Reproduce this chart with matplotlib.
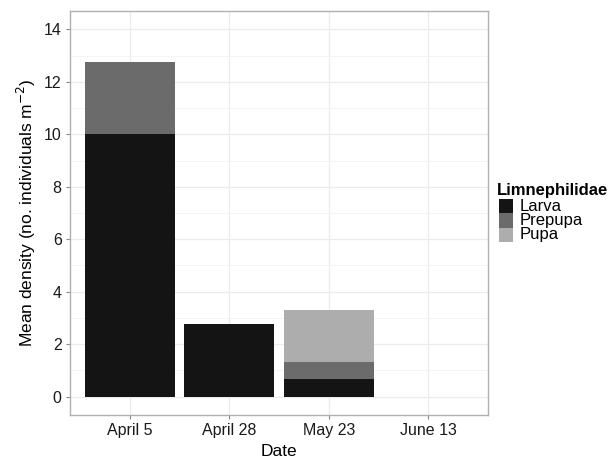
import matplotlib.pyplot as plt
import numpy as np
from matplotlib.patches import Rectangle

plt.rcParams['font.family'] = ['Liberation Sans', 'DejaVu Sans']

# data
dates = ['April 5', 'April 28', 'May 23', 'June 13']
larva = [10.0, 2.77, 0.66, 0.0]
prepupa = [2.77, 0.0, 0.66, 0.0]
pupa = [0.0, 0.0, 1.99, 0.0]

stages = ['Larva', 'Prepupa', 'Pupa']
colors = ['#141414', '#6b6b6b', '#adadad']

W, H = 612, 461
fig = plt.figure(figsize=(W/100, H/100), dpi=100)
ax = fig.add_axes([70/W, 46/H, 418/W, 404/H])

x = np.arange(len(dates))
bottom = np.zeros(len(dates))
for vals, col in zip([larva, prepupa, pupa], colors):
    ax.bar(x, vals, width=0.9, bottom=bottom, color=col, zorder=3)
    bottom += np.array(vals)

ax.set_xlim(-0.6, len(dates) - 0.4)
ax.set_ylim(-0.7, 14.7)
ax.set_xticks(x)
ax.set_xticklabels(dates)
ax.set_yticks(np.arange(0, 15, 2))
ax.set_yticks(np.arange(1, 15, 2), minor=True)
ax.grid(True, which='major', color='#ebebeb', lw=0.9, zorder=0)
ax.grid(True, which='minor', axis='y', color='#f3f3f3', lw=0.6, zorder=0)
ax.tick_params(which='major', length=3, color='#888888', labelsize=11.5, labelcolor='#1a1a1a', pad=3)
ax.tick_params(which='minor', length=0)
for s in ax.spines.values():
    s.set_color('#b0b0b0')
    s.set_linewidth(1.0)

ax.set_xlabel('Date', fontsize=12.5, labelpad=4)
ax.set_ylabel('Mean density (no. individuals m$^{-2}$)', fontsize=12.5, labelpad=4)

# legend drawn by hand (pixel positions, top-left origin)
fig.text(497/W, 1 - 190/H, 'Limnephilidae', fontsize=12, fontweight='bold',
         ha='left', va='center')
row_h = 14.3
for i, (lab, col) in enumerate(zip(stages, colors)):
    top = 199 + i*row_h
    fig.add_artist(Rectangle((499/W, 1 - (top + row_h)/H), 14/W, row_h/H,
                             transform=fig.transFigure, facecolor=col, edgecolor='none'))
    fig.text(520/W, 1 - (top + row_h/2)/H, lab, fontsize=12, ha='left', va='center')

fig.savefig('out.png', dpi=100)
